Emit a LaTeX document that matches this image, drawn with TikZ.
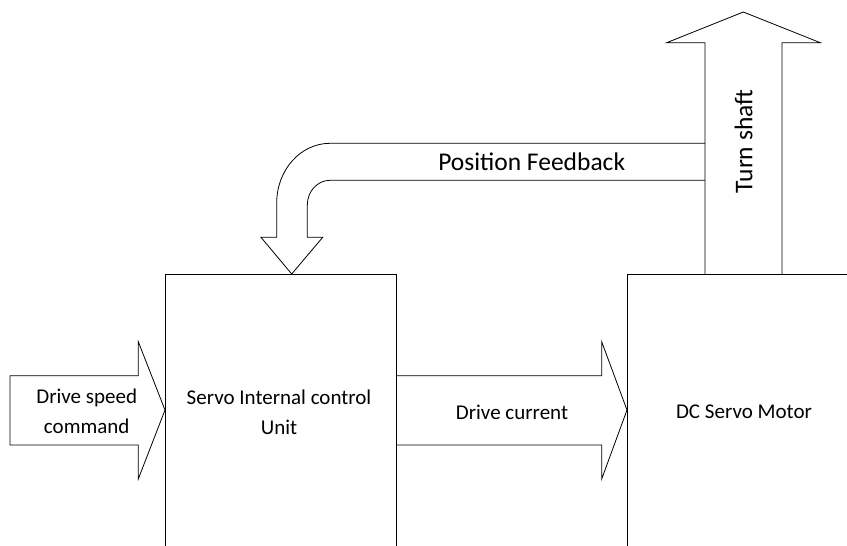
\documentclass[tikz,border=0pt]{standalone}
\usepackage{fontspec}
\setmainfont{Carlito}
\begin{document}
\begin{tikzpicture}[x=1pt,y=-1pt,line width=0.8pt,line join=miter,
  boxst/.style={draw,inner sep=0pt,anchor=north west},
  arrowst/.style={draw},
  lbl/.style={inner sep=0pt,align=center,font=\fontsize{21}{30}\selectfont},
  biglbl/.style={inner sep=0pt,align=center,font=\fontsize{25.5}{30}\selectfont}]
\useasboundingbox (0,0) rectangle (847,546);
\clip (0,0) rectangle (847,546);
% boxes
\node[boxst,minimum width=231pt,minimum height=300pt] (ctrl) at (165,274) {};
\node[boxst,minimum width=240pt,minimum height=300pt] (motor) at (627,274) {};
% key points
\coordinate (inTip) at (165,410);
\coordinate (curTip) at (627,410);
\coordinate (shaftTip) at (743.3,12);
\coordinate (fbTip) at (291.7,274);
% input arrow
\draw[arrowst] (10,375.7) -- (138.3,375.7) -- (138.3,341.7) -- (inTip) -- (138.3,479) -- (138.3,445) -- (10,445) -- cycle;
% drive current arrow
\draw[arrowst] (396,375.7) -- (601.7,375.7) -- (601.7,341.7) -- (curTip) -- (601.7,479) -- (601.7,445) -- (396,445);
% feedback arrow
\draw[arrowst] (705,143.3) -- (330,143.3) .. controls (300.6,143.3) and (276.7,170) .. (276.7,203)
  -- (276.7,237.3) -- (261,237.3) -- (fbTip) -- (322.7,237.3) -- (307.3,237.3) -- (307.3,205)
  .. controls (307.3,191.4) and (317.5,180.3) .. (330,180.3) -- (705,180.3);
% turn shaft arrow
\draw[arrowst] (705,274) -- (705,42.7) -- (666.7,42.7) -- (shaftTip) -- (820.3,42.7) -- (782,42.7) -- (782,274);
% labels
\node[lbl] (tin) at (86.7,411.5) {Drive speed\\command};
\node[lbl] (tctrl) at (279,412) {Servo Internal control\\Unit};
\node[lbl] (tcur) at (512,412.7) {Drive current};
\node[lbl] (tmot) at (744,412) {DC Servo Motor};
\node[biglbl] (tfb) at (531.7,161.7) {Position Feedback};
\node[biglbl,rotate=90] (tshaft) at (743.5,141.5) {Turn shaft};
\end{tikzpicture}
\end{document}
